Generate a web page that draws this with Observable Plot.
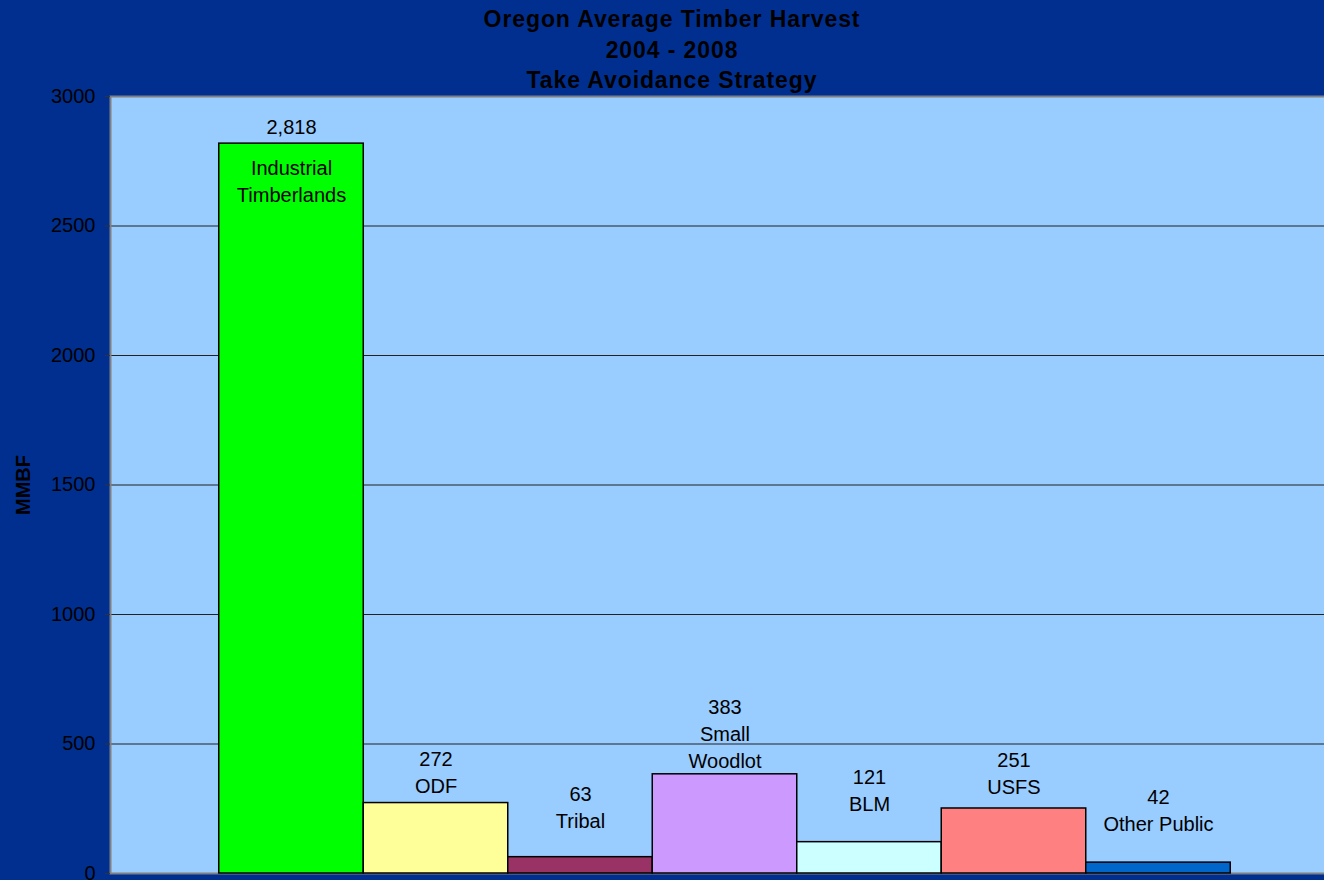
<!DOCTYPE html>
<html>
<head>
<meta charset="utf-8">
<script src="https://cdn.jsdelivr.net/npm/d3@7"></script>
<script src="https://cdn.jsdelivr.net/npm/@observablehq/plot@0.6"></script>
<style>
  html, body { margin: 0; padding: 0; background: #002F8F; overflow: hidden; }
  #wrap { width: 1324px; height: 880px; overflow: hidden; position: relative; }
  #title {
    height: 80px; box-sizing: border-box; padding-top: 4.4px;
    text-align: center; font-family: "Liberation Sans", Arial, sans-serif;
    font-weight: bold; font-size: 23px; line-height: 30.5px; letter-spacing: 0.9px;
    color: #000; padding-left: 20px; overflow: visible; white-space: nowrap;
  }
  #chart svg { display: block; overflow: visible; max-width: none !important; }
</style>
</head>
<body>
<div id="wrap">
  <div id="title">Oregon Average Timber Harvest<br>2004 - 2008<br>Take Avoidance Strategy</div>
  <div id="chart"></div>
</div>
<script>
// ---- data ----
const categories = ["Industrial Timberlands", "ODF", "Tribal", "Small Woodlot", "BLM", "USFS", "Other Public"];
const values = [2818, 272, 63, 383, 121, 251, 42];
const displayNames = ["Industrial\nTimberlands", "ODF", "Tribal", "Small\nWoodlot", "BLM", "USFS", "Other Public"];
const yTicks = [0, 500, 1000, 1500, 2000, 2500, 3000];
const yLabel = "MMBF";

// ---- styling (not data) ----
const colors = ["#00FF00", "#FFFF99", "#993366", "#CC99FF", "#CCFFFF", "#FF8080", "#0066CC"];
const labelGap = {"Industrial Timberlands": 10, "ODF": 10, "Tribal": 29, "Small Woodlot": 6, "BLM": 31, "USFS": 14, "Other Public": 32};
const insideName = new Set(["Industrial Timberlands"]);

const fmt = d3.format(",");
const rows = categories.map((c, i) => ({category: c, value: values[i], name: displayNames[i], color: colors[i]}));
const outside = rows.filter(d => !insideName.has(d.category));
const inside = rows.filter(d => insideName.has(d.category));
const font = "Liberation Sans, Arial, sans-serif";

const labelMarks = outside.map(d => Plot.text([d], {
  x: "category", y: "value",
  text: r => fmt(r.value) + "\n" + r.name,
  lineAnchor: "bottom", lineHeight: 1.35, dy: -labelGap[d.category],
  fontSize: 20, fill: "#000"
}));

const chart = Plot.plot({
  width: 1339,
  height: 800,
  marginLeft: 110,
  marginRight: 0,
  marginTop: 16,
  marginBottom: 7,
  style: {background: "transparent", fontFamily: font, fontSize: "20px", color: "#000", maxWidth: "none"},
  x: {domain: categories, paddingInner: 0, paddingOuter: 0.7526, round: false, axis: null},
  y: {domain: [0, 3000], ticks: yTicks, label: null},
  marks: [
    Plot.frame({fill: "#99CCFF", stroke: null}),
    Plot.ruleY(yTicks.filter(t => t > 0 && t < 3000), {stroke: "#222", strokeWidth: 1}),
    Plot.frame({stroke: "#808080", strokeWidth: 2}),
    Plot.axisY({ticks: yTicks, tickSize: 5, tickPadding: 10, tickFormat: d => String(d), stroke: "#333", fill: "#000", fontSize: 20, label: null}),
    Plot.barY(rows, {x: "category", y: "value", fill: "color", stroke: "#000", strokeWidth: 1.5}),
    ...labelMarks,
    Plot.text(inside, {x: "category", y: "value", text: d => fmt(d.value), lineAnchor: "bottom", dy: -10, fontSize: 20, fill: "#000"}),
    Plot.text(inside, {x: "category", y: "value", text: "name", lineAnchor: "top", lineHeight: 1.35, dy: 12, fontSize: 20, fill: "#000"}),
    Plot.text([yLabel], {frameAnchor: "left", dx: -87, rotate: -90, textAnchor: "middle", lineAnchor: "middle", fontWeight: "bold", fontSize: 20, fill: "#000"})
  ]
});
document.getElementById("chart").appendChild(chart);
</script>
</body>
</html>
